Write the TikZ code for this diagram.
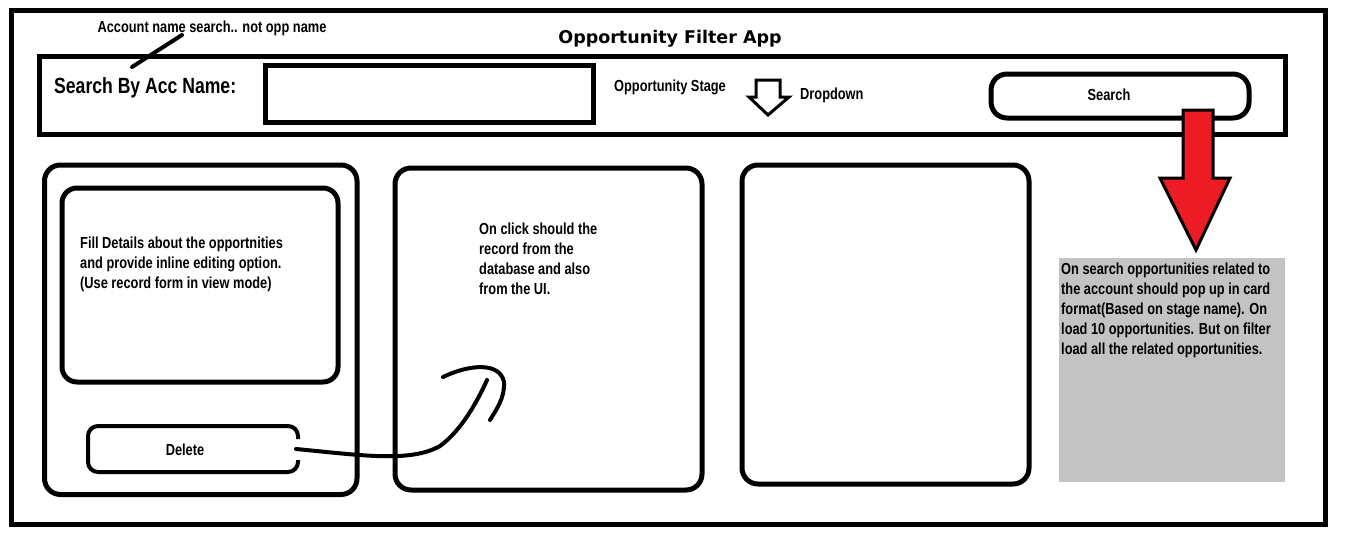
\documentclass[tikz,border=0pt]{standalone}
\usepackage{fontspec}
\newfontfamily\paintfont[FakeStretch=0.8]{Liberation Sans}
\newfontfamily\titlefont{DejaVu Sans}
\definecolor{paintred}{HTML}{ED1C24}
\definecolor{notegrey}{HTML}{C3C3C3}
\begin{document}
\begin{tikzpicture}[x=1pt,y=-1pt,
  box/.style={draw, line width=5pt, anchor=north west, inner sep=0pt, outer sep=0pt},
  card/.style={box, rounded corners=16pt},
  txt/.style={font=\paintfont\bfseries\fontsize{16}{20}\selectfont, inner sep=0pt, align=left},
  pen/.style={line width=4pt, line cap=round, line join=round},
]
\useasboundingbox[fill=white] (0,0) rectangle (1360,555);

% outer frame and title
\node[box, minimum width=1314pt, minimum height=514.5pt] (frame) at (11.5,10) {};
\node[font=\titlefont\bfseries\fontsize{17.5}{20}\selectfont, inner sep=0pt] (title) at (670,39) {Opportunity Filter App};

% search bar
\node[box, minimum width=1245.5pt, minimum height=78pt] (bar) at (39.5,56.5) {};
\node[txt, anchor=west, font=\paintfont\bfseries\fontsize{22}{26}\selectfont] (acclbl) at (54,88) {Search By Acc Name:};
\node[box, minimum width=328pt, minimum height=57pt] (input) at (265,65.5) {};
\node[txt] (note) at (212,28) {Account name search.. not opp name};
\coordinate (slashlow) at (132,67);
\coordinate (slashhigh) at (182,35);
\draw[pen] (slashlow) -- (slashhigh);
\node[txt, anchor=west] (stage) at (614,87) {Opportunity Stage};
\draw[line width=3pt, line join=miter] (756,80) -- (780,80) -- (780,97) -- (789,97) -- (768,115) -- (749,97) -- (756,97) -- cycle;
\node[txt, anchor=west] (dropdown) at (800,95) {Dropdown};
\node[box, rounded corners=16pt, minimum width=258pt, minimum height=44pt] (searchbtn) at (991,74) {};
\node[txt] (searchlbl) at (1109,95) {Search};

% cards
\node[card, minimum width=312.5pt, minimum height=329.5pt] (card1) at (44.5,165) {};
\node[card, rounded corners=15pt, minimum width=276pt, minimum height=194pt] (details) at (62,188) {};
\node[txt, anchor=north west] (detailstxt) at (80,237) {Fill Details about the opportnities\\and provide inline editing option.\\(Use record form in view mode)};

\node[inner sep=0pt, outer sep=0pt, minimum width=210pt, minimum height=46pt] (del) at (193,449) {};
\draw[line width=4pt, rounded corners=10pt] ([yshift=-13pt]del.north east) -- (del.north east) -- (del.north west) -- (del.south west) -- (del.south east) -- ([yshift=12pt]del.south east);
\node[txt] (dellbl) at (185,450) {Delete};

\node[card, minimum width=307pt, minimum height=322pt] (card2) at (395,168) {};
\node[txt, anchor=north west] (card2txt) at (479,223) {On click should the\\record from the\\database and also\\from the UI.};

\node[card, minimum width=287pt, minimum height=319pt] (card3) at (742,165) {};

% note on search results
\node[anchor=north west, fill=notegrey, inner sep=0pt, outer sep=0pt, minimum width=226pt, minimum height=224pt] (grey) at (1059,258) {};
\node[txt, anchor=north west] (greytxt) at (1061,263) {On search opportunities related to\\the account should pop up in card\\format(Based on stage name). On\\load 10 opportunities. But on filter\\load all the related opportunities.};

% delete connector with a hand-drawn hook head
\coordinate (tip) at (487,380);
\draw[pen] ([xshift=-2pt]del.east) .. controls (360,455) and (410,463) .. (440,446) .. controls (462,430) and (478,400) .. (tip);
\draw[pen] (443,377) .. controls (470,364) and (500,362) .. (504,382) .. controls (505,398) and (496,410) .. (490,420);

% red arrow from search to the result note
\draw[line width=3pt, fill=paintred, line join=miter] (1183,110) -- (1213,110) -- (1213,178) -- (1230,178) -- (1196,250) -- (1160,178) -- (1183,178) -- cycle;
\end{tikzpicture}
\end{document}
